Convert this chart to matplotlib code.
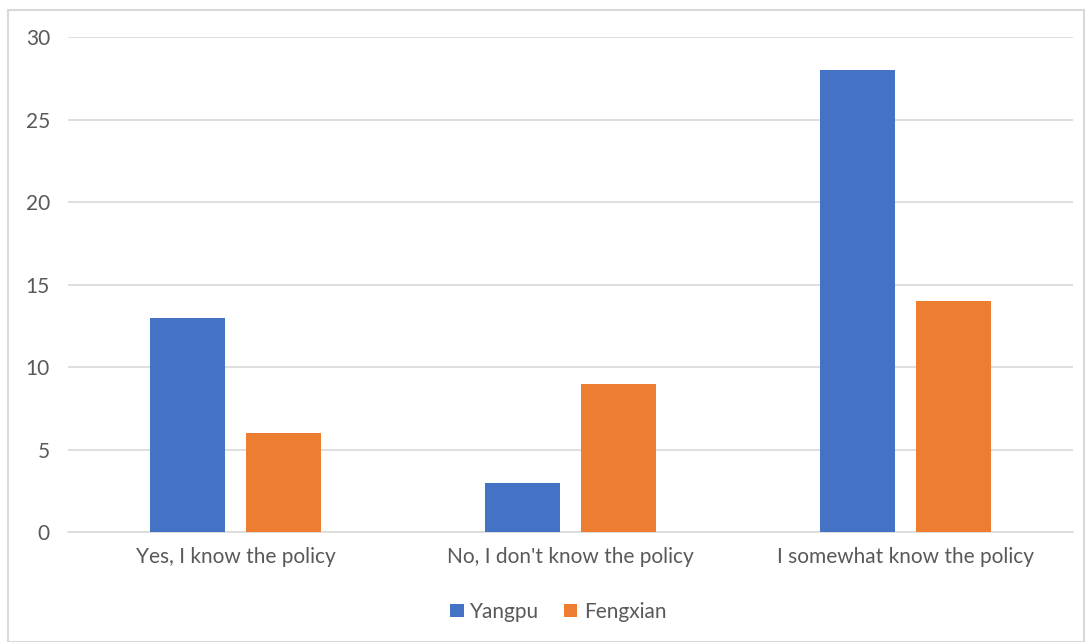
import numpy as np
import matplotlib.pyplot as plt
from matplotlib.patches import Rectangle

plt.rcParams['font.family'] = ['Lato', 'DejaVu Sans']

categories = ["Yes, I know the policy", "No, I don't know the policy", "I somewhat know the policy"]
yangpu = [13, 3, 28]
fengxian = [6, 9, 14]

text_color = '#595959'
grid_color = '#d9d9d9'

fig = plt.figure(figsize=(10.88, 6.42), dpi=100)
ax = fig.add_axes([0.0625, 0.171, 0.9235, 0.771])

# outer chart border
fig.patches.append(Rectangle((8 / 1088, 0), 1076 / 1088, 1 - 10 / 642,
                             transform=fig.transFigure, fill=False,
                             edgecolor=grid_color, linewidth=1.5))

x = np.arange(len(categories))
w = 0.224
off = 0.143
ax.bar(x - off, yangpu, w, color='#4472c4', label='Yangpu', zorder=3)
ax.bar(x + off, fengxian, w, color='#ed7d31', label='Fengxian', zorder=3)

ax.set_xlim(-0.5, 2.5)
ax.set_ylim(0, 30)
ax.set_yticks(range(0, 31, 5))
ax.set_xticks(x)
ax.set_xticklabels(categories)
ax.grid(axis='y', color=grid_color, linewidth=1.2, zorder=0)
for s in ['top', 'right', 'left']:
    ax.spines[s].set_visible(False)
ax.spines['bottom'].set_color(grid_color)
ax.spines['bottom'].set_linewidth(1.2)
ax.tick_params(axis='both', length=0, colors=text_color, labelsize=15)
ax.tick_params(axis='y', pad=13)
ax.tick_params(axis='x', pad=11)

fig.legend(loc='center', bbox_to_anchor=(0.513, 0.047), ncol=2, frameon=False,
           fontsize=15, labelcolor=text_color, handlelength=0.65, handleheight=0.65,
           handletextpad=0.3, columnspacing=1.2)

fig.savefig('out.png', dpi=100)
